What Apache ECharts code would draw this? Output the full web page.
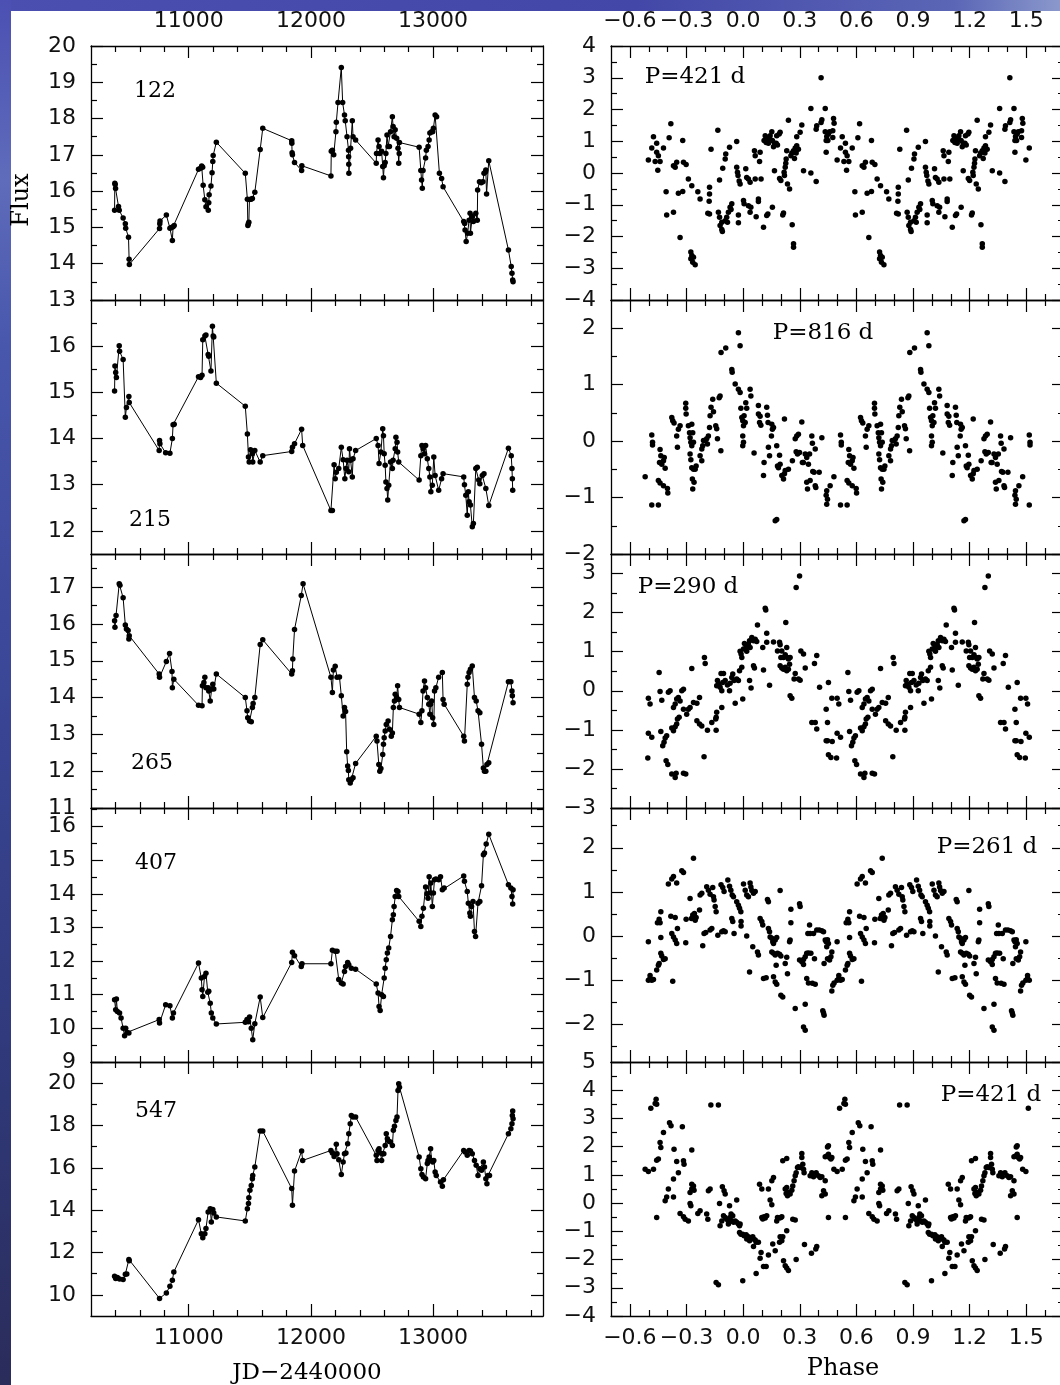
<!DOCTYPE html>
<html>
<head>
<meta charset="utf-8">
<script src="https://cdn.jsdelivr.net/npm/echarts@6/dist/echarts.min.js"></script>
<style>html,body{margin:0;padding:0;background:#fff}#c{width:1060px;height:1385px}</style>
</head>
<body>
<div id="c"></div>
<script>
// ---------------- DATA ----------------
// Light curves: [JD-2440000, flux]
const lc122 = [[10393,15.47],[10395,16.22],[10398,16.18],[10401,16.07],[10425,15.58],[10431,15.47],[10463,15.26],[10481,15.10],[10484,14.98],[10507,14.73],[10512,14.12],[10514,13.98],
[10761,14.97],[10763,15.10],[10765,15.18],[10817,15.34],[10846,14.98],[10858,15.00],[10866,14.64],[10872,15.02],[10881,15.05],
[11080,16.60],[11097,16.63],[11106,16.69],[11114,16.66],[11118,16.16],[11132,15.76],[11141,15.57],[11160,15.47],[11164,15.68],[11167,15.90],[11182,16.14],[11191,16.51],[11197,16.82],[11200,16.98],[11226,17.35],
[11463,16.49],[11480,15.78],[11484,15.05],[11488,15.10],[11492,15.14],[11497,15.77],[11510,15.78],[11521,15.80],[11541,15.97],[11585,17.15],[11606,17.73],
[11843,17.39],[11844,17.32],[11846,17.06],[11849,17.00],[11866,16.79],[11924,16.57],[11926,16.70],
[12164,16.42],[12167,17.10],[12176,17.13],[12187,17.00],[12205,17.64],[12208,17.90],[12222,18.44],[12249,19.41],[12260,18.44],[12275,18.10],[12281,17.94],[12296,17.50],[12308,17.13],[12309,16.95],[12310,16.74],[12311,16.49],[12325,17.18],[12339,17.94],[12345,17.50],[12366,17.41],
[12535,16.77],[12537,17.04],[12550,17.41],[12558,17.23],[12564,17.04],[12579,17.10],[12588,16.68],[12594,16.37],[12600,16.70],[12608,16.79],[12614,17.04],[12623,17.55],[12632,17.23],[12643,17.23],[12652,17.64],[12667,18.05],[12673,17.78],[12681,17.50],[12690,17.69],[12702,17.46],[12713,17.18],[12719,16.77],[12723,17.04],[12725,17.34],
[12886,17.21],[12900,16.57],[12906,16.31],[12912,16.08],[12918,16.57],[12939,16.91],[12945,17.13],[12959,17.23],[12968,17.41],[12974,17.60],[12988,17.64],[12997,17.64],[13003,17.73],[13017,18.10],[13029,18.05],[13052,16.49],[13070,16.35],[13082,16.12],
[13251,15.16],[13259,15.11],[13262,14.93],[13271,14.61],[13283,14.84],[13295,15.20],[13303,15.39],[13306,14.84],[13321,15.30],[13330,15.16],[13350,15.39],[13362,15.20],[13365,16.03],[13380,16.26],[13394,16.23],[13408,16.26],[13417,16.49],[13429,16.53],[13432,16.58],[13438,15.92],[13456,16.84],
[13617,14.38],[13640,13.92],[13646,13.74],[13652,13.55],[13655,13.50]];

const lc215 = [[10393,15.03],[10396,15.57],[10402,15.43],[10408,15.32],[10431,16.01],[10434,15.89],[10463,15.71],[10481,14.46],[10490,14.67],[10510,14.91],[10513,14.78],
[10758,13.74],[10761,13.96],[10764,13.89],[10811,13.69],[10846,13.68],[10866,14.00],[10872,14.30],[10881,14.31],
[11080,15.34],[11097,15.32],[11109,15.37],[11115,16.14],[11132,16.22],[11141,16.24],[11159,15.82],[11164,15.78],[11182,15.46],[11194,16.43],[11200,16.22],[11205,16.20],[11226,15.20],
[11463,14.70],[11480,14.10],[11489,13.60],[11495,13.49],[11506,13.76],[11521,13.67],[11524,13.49],[11541,13.74],[11585,13.49],[11606,13.63],
[11843,13.72],[11849,13.81],[11866,13.89],[11924,14.20],[11933,13.85],
[12164,12.44],[12176,12.44],[12190,13.43],[12199,13.13],[12208,13.27],[12228,13.35],[12249,13.81],[12264,13.54],[12278,13.13],[12287,13.35],[12296,13.53],[12310,13.28],[12316,13.78],[12325,13.53],[12339,13.17],[12345,13.56],[12366,13.74],
[12535,14.00],[12550,13.85],[12558,13.46],[12573,13.71],[12588,14.21],[12594,14.06],[12600,13.67],[12608,13.42],[12614,13.06],[12623,12.92],[12629,12.67],[12637,12.99],[12652,13.49],[12667,13.35],[12673,13.53],[12690,13.78],[12696,14.03],[12705,13.92],[12710,13.71],[12719,13.49],
[12886,13.10],[12900,13.63],[12909,13.85],[12918,13.78],[12930,13.67],[12939,13.85],[12953,13.56],[12965,13.35],[12974,13.17],[12982,12.85],[12994,12.99],[13006,13.60],[13017,13.20],[13046,12.88],[13070,13.13],[13082,13.24],
[13251,13.17],[13257,13.00],[13268,12.77],[13280,12.34],[13289,12.85],[13295,12.63],[13306,12.56],[13321,12.09],[13330,12.16],[13350,13.35],[13362,13.38],[13374,13.10],[13383,13.02],[13403,13.20],[13417,13.24],[13432,12.92],[13456,12.55],
[13617,13.79],[13640,13.63],[13646,13.35],[13649,13.13],[13652,12.88]];

const lc265 = [[10393,16.09],[10396,15.91],[10405,16.23],[10431,17.09],[10437,17.05],[10463,16.71],[10481,15.97],[10490,15.86],[10504,15.82],[10510,15.59],[10513,15.68],
[10758,14.64],[10761,14.55],[10817,14.98],[10843,15.20],[10863,14.71],[10866,14.27],[10878,14.50],
[11080,13.79],[11109,13.78],[11112,14.32],[11124,14.41],[11132,14.55],[11141,14.27],[11159,14.27],[11164,14.18],[11176,13.91],[11188,14.23],[11197,14.36],[11205,14.23],[11226,14.64],
[11463,14.00],[11477,13.64],[11483,13.45],[11498,13.36],[11512,13.34],[11521,13.73],[11527,13.84],[11541,14.00],[11585,15.44],[11606,15.57],
[11843,14.64],[11849,14.73],[11852,15.05],[11866,15.85],[11921,16.77],[11936,17.09],
[12164,14.55],[12176,14.14],[12184,14.75],[12199,14.85],[12214,14.55],[12234,14.56],[12249,14.05],[12264,13.50],[12275,13.73],[12284,13.62],[12293,12.53],[12301,12.14],[12307,12.02],[12310,11.77],[12322,11.68],[12331,11.77],[12345,11.82],[12366,12.21],
[12535,12.95],[12541,12.82],[12556,12.18],[12564,12.00],[12573,12.07],[12588,12.45],[12594,12.73],[12600,12.91],[12608,13.09],[12617,13.27],[12632,13.36],[12643,13.14],[12658,12.95],[12667,13.04],[12675,13.73],[12684,13.91],[12690,14.09],[12702,14.00],[12710,14.32],[12719,13.95],[12725,13.73],
[12886,13.55],[12900,13.32],[12909,13.64],[12918,14.18],[12930,14.45],[12939,14.27],[12953,14.00],[12965,13.82],[12974,13.55],[12980,13.82],[12988,13.91],[12997,13.45],[13006,13.27],[13012,14.18],[13023,14.27],[13046,14.55],[13076,14.68],[13082,13.95],[13091,13.82],
[13251,12.95],[13257,12.82],[13280,14.36],[13286,14.55],[13295,14.68],[13306,14.77],[13321,14.86],[13339,14.00],[13353,13.91],[13368,13.64],[13383,13.59],[13397,12.73],[13412,12.09],[13421,12.00],[13432,12.00],[13441,12.18],[13456,12.23],
[13617,14.43],[13637,14.43],[13646,14.18],[13649,14.05],[13655,13.86]];

const lc407 = [[10393,10.85],[10402,10.55],[10408,10.87],[10416,10.50],[10434,10.46],[10446,10.31],[10463,10.00],[10475,9.78],[10484,10.00],[10496,9.88],[10510,9.86],
[10758,10.26],[10761,10.16],[10811,10.70],[10846,10.67],[10866,10.31],[10875,10.46],
[11080,11.94],[11103,11.50],[11109,11.15],[11115,10.95],[11129,11.54],[11141,11.64],[11156,11.07],[11164,11.10],[11176,10.75],[11185,10.46],[11197,10.31],[11226,10.13],
[11463,10.18],[11477,10.26],[11489,10.20],[11498,10.34],[11512,10.00],[11524,9.66],[11541,10.14],[11585,10.93],[11606,10.32],
[11843,11.96],[11849,12.26],[11866,12.16],[11921,11.84],[11927,11.92],
[12164,11.92],[12176,12.32],[12199,12.29],[12214,12.29],[12228,11.45],[12249,11.35],[12264,11.32],[12275,11.69],[12284,11.84],[12301,11.96],[12310,11.89],[12331,11.79],[12366,11.76],
[12535,11.32],[12550,11.05],[12558,10.65],[12567,10.53],[12579,11.00],[12594,10.95],[12600,11.50],[12608,11.79],[12617,12.04],[12626,12.24],[12637,12.39],[12652,12.73],[12667,13.23],[12675,13.38],[12681,13.62],[12690,13.92],[12702,14.10],[12713,14.07],[12719,13.92],
[12886,13.18],[12900,13.03],[12909,13.33],[12921,13.57],[12939,14.20],[12950,14.00],[12959,13.87],[12968,14.51],[12977,14.02],[12982,14.32],[12994,13.62],[13003,14.02],[13012,14.42],[13023,14.44],[13046,14.42],[13061,14.51],[13076,14.12],[13091,14.17],
[13251,14.53],[13257,14.37],[13280,14.07],[13289,13.72],[13301,13.43],[13306,13.33],[13315,13.62],[13327,13.77],[13339,12.88],[13348,12.73],[13368,13.72],[13383,13.77],[13397,14.24],[13412,15.16],[13421,15.21],[13435,15.48],[13456,15.77],
[13617,14.27],[13637,14.17],[13646,13.92],[13652,13.70],[13655,14.12]];

const lc547 = [[10393,10.88],[10402,10.77],[10416,10.82],[10434,10.75],[10463,10.72],[10481,10.97],[10493,10.99],[10510,11.67],[10513,11.61],
[10761,9.83],[10817,10.09],[10846,10.41],[10866,10.69],[10878,11.08],
[11080,13.55],[11103,12.89],[11115,12.70],[11132,12.89],[11141,13.13],[11159,13.91],[11176,14.07],[11185,13.44],[11197,14.03],[11205,13.87],[11226,13.68],
[11463,13.49],[11480,14.07],[11489,14.31],[11492,14.59],[11501,14.94],[11512,15.17],[11521,15.49],[11524,15.64],[11541,16.04],[11585,17.74],[11606,17.74],
[11843,15.02],[11849,14.23],[11866,15.85],[11924,16.79],[11933,16.35],
[12164,16.82],[12176,16.70],[12190,16.54],[12208,17.11],[12214,16.67],[12228,16.38],[12249,15.69],[12264,16.27],[12275,16.67],[12287,16.70],[12301,17.14],[12310,17.61],[12322,18.08],[12331,18.47],[12345,18.40],[12366,18.40],
[12535,16.59],[12541,16.35],[12550,16.82],[12558,16.90],[12570,16.70],[12579,16.35],[12588,16.67],[12597,16.67],[12608,17.06],[12617,17.61],[12626,17.37],[12637,17.26],[12652,17.22],[12667,17.06],[12675,17.77],[12684,17.96],[12696,18.24],[12705,18.40],[12713,19.65],[12719,19.97],[12725,19.81],
[12886,16.51],[12900,15.96],[12909,15.69],[12921,15.57],[12939,15.49],[12953,16.20],[12959,16.35],[12968,16.51],[12980,16.90],[12988,16.35],[12997,16.27],[13006,16.35],[13017,15.80],[13026,15.64],[13061,15.33],[13076,15.13],[13085,15.44],
[13251,16.82],[13262,16.75],[13280,16.59],[13295,16.82],[13306,16.79],[13321,16.67],[13339,16.35],[13353,16.12],[13368,15.64],[13383,15.96],[13397,15.88],[13412,16.27],[13421,16.04],[13432,15.49],[13441,15.25],[13450,15.64],[13462,15.64],
[13617,17.61],[13637,17.85],[13646,18.08],[13649,18.47],[13652,18.68],[13655,18.32]];

// Phased curves, one cycle: [phase, flux - mean]
const ph122 = [[-0.502,0.41],[-0.484,0.79],[-0.475,1.14],[-0.466,0.36],[-0.458,0.94],[-0.458,0.65],[-0.449,0.54],[-0.44,0.36],[-0.452,0.09],[-0.422,0.79],[-0.408,-0.59],[-0.405,-1.32],[-0.383,1.55],[-0.392,1.11],[-0.369,-1.24],[-0.369,0.23],[-0.36,0.18],[-0.352,0.34],[-0.343,-0.64],[-0.334,-2.03],[-0.32,1.02],[-0.316,0.34],[-0.302,0.27],[-0.32,-0.58],[-0.29,-0.19],[-0.277,-2.49],[-0.272,-2.6],[-0.263,-2.65],[-0.277,-2.7],[-0.267,-2.81],[-0.254,-2.89],[-0.272,-0.4],[-0.24,-0.59],[-0.228,-0.82],[-0.178,-0.45],[-0.178,-0.66],[-0.18,-0.89],[-0.187,-1.27],[-0.178,-1.29],[-0.17,0.75],[-0.134,1.35],[-0.131,-1.24],[-0.125,-1.39],[-0.125,-0.22],[-0.113,-1.55],[-0.122,-1.65],[-0.113,-1.78],[-0.11,-1.84],[-0.108,0.15],[-0.095,0.44],[-0.092,0.6],[-0.095,-1.5],[-0.087,-1.39],[-0.083,-1.55],[-0.072,0.81],[-0.078,-1.24],[-0.069,-1.08],[-0.064,-1.15],[-0.06,-0.97],[-0.034,0.99],[-0.034,0.18],[-0.03,0.02],[-0.027,-0.08],[-0.021,-0.25],[-0.016,-0.35],[-0.025,-1.32],[-0.025,-1.57],[0.002,-0.87],[0.005,-0.97],[0.014,0.13],[0.019,-0.14],[0.028,-0.19],[0.037,-0.29],[0.028,-1.03],[0.037,-1.24],[0.041,-1.08],[0.06,0.7],[0.064,0.54],[0.069,-1.38],[0.087,0.36],[0.09,0.65],[0.081,-0.82],[0.081,-0.9],[0.095,-0.19],[0.064,-0.19],[0.108,-1.71],[0.111,1.02],[0.117,1.17],[0.122,0.96],[0.125,1.09],[0.134,0.94],[0.14,1.07],[0.143,1.17],[0.152,1.3],[0.155,1.02],[0.161,0.83],[0.166,0.94],[0.175,0.94],[0.182,0.88],[0.191,1.23],[0.196,1.28],[0.178,1.17],[0.125,-1.34],[0.131,-1.29],[0.155,-1.08],[0.166,0.07],[0.193,-0.17],[0.2,-0.24],[0.21,-1.32],[0.214,-1.26],[0.217,0.02],[0.223,0.18],[0.226,0.31],[0.219,-0.08],[0.231,0.7],[0.228,0.44],[0.24,1.66],[0.235,-0.35],[0.246,-0.5],[0.26,-1.63],[0.267,-2.23],[0.267,-2.34],[0.253,0.54],[0.258,0.63],[0.267,0.7],[0.276,0.79],[0.284,0.86],[0.293,0.75],[0.272,0.46],[0.281,0.63],[0.284,1.14],[0.302,1.28],[0.311,1.51],[0.32,0.07],[0.359,0.0],[0.359,2.03],[0.387,1.38],[0.39,1.49],[0.387,-0.27],[0.413,3.0],[0.413,1.59],[0.417,1.68],[0.435,2.03],[0.435,1.3],[0.44,1.02],[0.443,1.15],[0.452,1.23],[0.458,1.3],[0.475,1.33],[0.479,1.72],[0.482,1.57],[0.44,0.65],[0.449,1.02],[0.475,1.12]];

const ph215 = [[-0.519,-0.63],[-0.484,0.11],[-0.48,-0.02],[-0.48,-0.07],[-0.484,-1.13],[-0.449,-1.13],[-0.44,-0.15],[-0.436,-0.26],[-0.443,-0.38],[-0.431,-0.41],[-0.422,-0.35],[-0.413,-0.48],[-0.418,-0.29],[-0.449,-0.7],[-0.44,-0.74],[-0.422,-0.79],[-0.401,-0.84],[-0.399,-0.92],[-0.378,0.42],[-0.373,0.36],[-0.366,0.32],[-0.352,0.09],[-0.348,-0.11],[-0.343,0.21],[-0.334,0.27],[-0.304,0.67],[-0.304,0.58],[-0.302,0.48],[-0.29,0.27],[-0.284,0.15],[-0.281,0.06],[-0.277,-0.02],[-0.272,0.3],[-0.267,0.15],[-0.263,-0.02],[-0.272,-0.08],[-0.281,-0.23],[-0.277,-0.33],[-0.272,-0.47],[-0.263,-0.5],[-0.254,-0.5],[-0.249,-0.44],[-0.269,-0.67],[-0.26,-0.73],[-0.267,-0.85],[-0.228,-0.26],[-0.219,-0.14],[-0.214,-0.08],[-0.21,0.01],[-0.201,0.01],[-0.193,0.04],[-0.189,-0.05],[-0.184,0.09],[-0.219,-0.35],[-0.178,0.24],[-0.175,0.45],[-0.17,0.6],[-0.161,0.74],[-0.157,0.52],[-0.145,0.27],[-0.14,0.22],[-0.136,0.04],[-0.127,0.77],[-0.122,0.8],[-0.118,-0.17],[-0.117,1.57],[-0.092,1.65],[-0.06,1.27],[-0.058,1.22],[-0.042,1.01],[-0.025,0.92],[-0.016,0.86],[-0.025,1.92],[-0.016,1.69],[-0.012,0.58],[-0.007,0.42],[-0.002,0.36],[0.002,0.27],[0.005,0.45],[0.011,0.33],[-0.002,0.09],[0.002,-0.02],[-0.002,-0.08],[0.014,0.68],[0.019,0.58],[0.037,0.92],[0.041,0.8],[0.058,-0.21],[0.081,0.63],[0.081,0.48],[0.087,0.33],[0.09,0.44],[0.094,0.28],[0.108,-0.61],[0.111,-0.38],[0.125,0.6],[0.129,0.46],[0.132,0.33],[0.134,-0.11],[0.14,-0.26],[0.152,0.3],[0.155,0.21],[0.161,0.24],[0.15,0.09],[0.178,-0.08],[0.182,-0.44],[0.187,-0.47],[0.196,-0.41],[0.193,-0.25],[0.205,-0.61],[0.214,-0.67],[0.219,-0.58],[0.219,0.39],[0.223,-0.52],[0.178,-1.39],[0.17,-1.41],[0.24,-0.5],[0.261,-0.35],[0.276,0.04],[0.284,0.09],[0.293,0.12],[0.299,-0.2],[0.281,-0.19],[0.288,-0.23],[0.311,0.34],[0.314,-0.38],[0.319,-0.38],[0.329,-0.23],[0.337,-0.29],[0.346,-0.41],[0.352,-0.23],[0.337,-0.73],[0.341,-0.85],[0.355,-0.7],[0.364,0.09],[0.367,-0.04],[0.369,-0.54],[0.376,-0.55],[0.382,-0.14],[0.382,-0.79],[0.385,-0.82],[0.403,-0.55],[0.417,0.06],[0.44,-0.96],[0.443,-0.88],[0.443,-1.12],[0.447,-1.03],[0.461,-0.79]];

const ph265 = [[-0.502,-0.19],[-0.493,-0.34],[-0.502,-1.09],[-0.484,-1.19],[-0.505,-1.72],[-0.445,0.47],[-0.44,-0.02],[-0.431,-0.24],[-0.436,-1.04],[-0.426,-1.41],[-0.419,-1.32],[-0.413,-1.21],[-0.405,-1.15],[-0.408,-1.79],[-0.399,-1.89],[-0.396,-0.04],[-0.387,0.0],[-0.378,-2.13],[-0.36,-2.22],[-0.355,-2.11],[-0.378,-0.95],[-0.369,-1.02],[-0.36,-0.92],[-0.352,-0.85],[-0.348,-0.72],[-0.339,-0.68],[-0.369,-0.43],[-0.36,-0.34],[-0.352,-0.21],[-0.343,-0.17],[-0.334,-0.26],[-0.325,0.0],[-0.316,0.04],[-0.316,-2.11],[-0.304,-2.13],[-0.316,-0.47],[-0.299,-0.6],[-0.29,-0.47],[-0.281,-0.43],[-0.272,0.57],[-0.263,-0.3],[-0.245,-0.32],[-0.231,-0.17],[-0.245,-0.77],[-0.231,-0.85],[-0.219,-0.9],[-0.207,-1.69],[-0.205,0.85],[-0.201,0.7],[-0.189,-1.01],[-0.166,-0.81],[-0.145,-0.72],[-0.143,-0.68],[-0.14,-0.55],[-0.143,-1.01],[-0.14,0.13],[-0.136,0.26],[-0.131,0.17],[-0.122,0.09],[-0.113,0.0],[-0.117,0.44],[-0.104,0.44],[-0.113,-0.43],[-0.108,0.21],[-0.095,0.26],[-0.083,0.15],[-0.072,0.0],[-0.069,0.19],[-0.06,0.34],[-0.055,0.43],[-0.048,0.26],[-0.042,-0.32],[-0.034,0.3],[-0.025,0.26],[-0.019,0.51],[-0.007,0.6],[-0.002,-0.21],[-0.016,1.01],[-0.011,0.94],[-0.007,0.85],[0.002,1.07],[0.007,1.21],[0.016,1.11],[0.019,1.01],[0.028,1.19],[0.034,1.28],[0.037,1.11],[0.046,1.36],[0.055,1.28],[0.064,1.32],[0.072,1.26],[0.034,0.26],[0.042,0.07],[0.055,0.64],[0.06,0.58],[0.076,1.68],[0.104,1.11],[0.108,0.53],[0.117,2.11],[0.12,2.07],[0.125,1.47],[0.125,1.24],[0.14,0.14],[0.161,1.25],[0.182,1.02],[0.193,1.24],[0.196,1.18],[0.205,1.02],[0.2,0.85],[0.196,0.64],[0.205,0.58],[0.214,0.85],[0.223,0.92],[0.231,1.11],[0.235,0.85],[0.24,0.81],[0.249,0.85],[0.214,0.55],[0.223,0.6],[0.231,0.51],[0.246,0.68],[0.24,0.55],[0.226,1.75],[0.249,-0.13],[0.258,-0.19],[0.27,0.3],[0.276,0.44],[0.281,2.64],[0.293,0.3],[0.299,2.94],[0.306,1.02],[0.302,0.27],[0.32,0.94],[0.329,0.58],[0.364,-0.81],[0.382,-0.81],[0.39,-0.98],[0.378,0.7],[0.39,0.9],[0.405,0.09],[0.44,-0.47],[0.447,-0.81],[0.44,-1.28],[0.447,-1.28],[0.452,0.21],[0.452,-1.64],[0.465,-1.71],[0.47,-0.19],[0.472,-1.3]];

const ph407 = [[-0.502,-0.13],[-0.502,-1.0],[-0.493,-0.96],[-0.484,-1.0],[-0.475,-0.98],[-0.493,-0.89],[-0.458,-0.77],[-0.449,-0.66],[-0.445,-0.62],[-0.454,0.3],[-0.445,0.38],[-0.436,0.55],[-0.44,0.3],[-0.436,-0.03],[-0.436,-0.39],[-0.431,-0.45],[-0.422,-0.53],[-0.413,-0.51],[-0.396,1.18],[-0.378,1.29],[-0.369,1.35],[-0.352,1.2],[-0.325,1.48],[-0.316,1.44],[-0.383,0.45],[-0.36,0.42],[-0.373,-1.02],[-0.378,0.06],[-0.369,-0.02],[-0.36,-0.09],[-0.352,-0.17],[-0.348,0.17],[-0.304,-0.15],[-0.302,0.38],[-0.281,0.85],[-0.274,0.4],[-0.267,0.48],[-0.258,0.51],[-0.254,0.36],[-0.249,0.42],[-0.263,1.76],[-0.231,0.59],[-0.228,0.93],[-0.219,0.97],[-0.214,-0.22],[-0.207,0.06],[-0.198,0.08],[-0.193,1.12],[-0.184,1.04],[-0.175,0.95],[-0.161,1.1],[-0.157,0.89],[-0.154,0.82],[-0.148,0.67],[-0.143,0.55],[-0.175,0.14],[-0.166,0.17],[-0.134,0.02],[-0.113,0.1],[-0.104,0.12],[-0.095,0.1],[-0.117,1.16],[-0.108,1.1],[-0.101,1.01],[-0.081,1.27],[-0.072,1.13],[-0.065,1.04],[-0.058,0.93],[-0.051,0.89],[-0.06,0.4],[-0.055,0.33],[-0.048,0.06],[-0.034,0.78],[-0.025,0.7],[-0.019,0.63],[-0.012,0.55],[-0.011,0.33],[-0.011,0.23],[0.002,1.18],[0.011,1.04],[0.019,0.93],[0.037,1.2],[0.041,1.11],[0.046,1.03],[0.055,0.97],[0.064,1.01],[0.019,0.0],[0.028,0.89],[0.034,-0.81],[0.051,-0.24],[0.076,-0.36],[0.081,-0.43],[0.09,0.4],[0.099,0.33],[0.104,0.25],[0.108,-0.96],[0.122,-0.94],[0.129,0.83],[0.134,0.78],[0.134,0.17],[0.14,0.1],[0.143,-0.02],[0.152,-0.05],[0.157,-0.13],[0.161,-0.17],[0.17,-0.09],[0.178,-0.03],[0.152,-0.36],[0.161,-0.39],[0.17,-0.43],[0.182,-0.39],[0.193,-0.41],[0.2,-0.45],[0.161,-0.92],[0.17,-1.04],[0.178,-1.09],[0.175,-0.66],[0.196,1.03],[0.2,-1.34],[0.21,-1.38],[0.223,-0.62],[0.231,-0.48],[0.235,-0.85],[0.246,-0.13],[0.249,-0.09],[0.253,0.3],[0.253,0.61],[0.299,0.73],[0.302,0.67],[0.276,-1.64],[0.299,-0.54],[0.311,-0.58],[0.32,-0.53],[0.32,-0.64],[0.329,-1.54],[0.32,-2.06],[0.329,-2.13],[0.329,-0.47],[0.337,-0.39],[0.346,-0.38],[0.359,-0.39],[0.378,-0.51],[0.337,-0.96],[0.346,-1.06],[0.367,-1.07],[0.382,-1.09],[0.352,0.25],[0.343,0.06],[0.355,0.06],[0.373,0.06],[0.39,0.14],[0.403,0.14],[0.417,0.12],[0.426,0.1],[0.422,-1.69],[0.429,-1.79],[0.426,-1.74],[0.429,-0.62],[0.435,-0.09],[0.44,-0.13],[0.447,-0.08],[0.452,-0.17],[0.443,-0.24],[0.447,-0.51],[0.458,-0.54],[0.465,-0.47],[0.47,-0.36],[0.47,-1.24],[0.475,-1.11],[0.482,-1.06]];

const ph547 = [[-0.519,1.2],[-0.502,1.12],[-0.475,1.2],[-0.489,3.36],[-0.466,3.53],[-0.461,3.68],[-0.458,3.5],[-0.458,-0.51],[-0.458,1.52],[-0.449,1.56],[-0.44,2.15],[-0.436,1.97],[-0.422,2.5],[-0.413,0.08],[-0.405,0.22],[-0.396,0.5],[-0.39,2.85],[-0.382,2.74],[-0.369,0.85],[-0.369,0.22],[-0.366,1.91],[-0.352,1.47],[-0.343,1.08],[-0.334,-0.37],[-0.316,-0.48],[-0.307,-0.57],[-0.29,-0.63],[-0.322,2.71],[-0.316,1.5],[-0.313,1.38],[-0.281,-0.01],[-0.277,-0.09],[-0.281,0.38],[-0.272,0.5],[-0.263,0.61],[-0.26,0.46],[-0.272,0.67],[-0.272,1.88],[-0.24,-0.37],[-0.228,-0.27],[-0.193,-0.39],[-0.187,-0.57],[-0.184,0.44],[-0.175,0.5],[-0.171,3.48],[-0.131,3.48],[-0.143,-2.81],[-0.131,-2.89],[-0.125,-0.01],[-0.122,-0.8],[-0.113,-0.63],[-0.11,0.58],[-0.101,0.44],[-0.095,0.32],[-0.104,-0.45],[-0.095,-0.51],[-0.087,-0.57],[-0.078,-0.63],[-0.069,-0.51],[-0.064,-0.39],[-0.055,-0.45],[-0.06,-0.63],[-0.078,-0.74],[-0.051,-0.68],[-0.042,-0.63],[-0.034,-0.68],[-0.025,-0.74],[-0.019,-0.8],[-0.016,-0.74],[-0.072,-0.09],[-0.034,0.11],[-0.019,-1.04],[-0.012,-1.1],[-0.002,-1.1],[0.005,-1.16],[0.016,-1.12],[0.019,-1.27],[0.028,-1.19],[0.034,-1.33],[0.041,-1.24],[0.051,-1.19],[0.055,-1.27],[0.064,-1.31],[0.069,-1.39],[0.081,-1.39],[-0.002,-2.75],[0.055,-1.54],[0.069,-2.49],[0.087,0.67],[0.099,0.5],[0.09,-1.95],[0.095,-1.75],[0.108,-2.25],[0.122,-2.25],[0.099,-0.51],[0.104,-0.56],[0.111,-0.48],[0.117,-0.53],[0.125,-0.45],[0.134,-1.84],[0.134,0.5],[0.143,0.11],[0.152,-0.06],[0.152,0.79],[0.161,0.91],[0.157,-1.45],[0.17,-1.69],[0.178,-0.63],[0.182,-0.51],[0.193,-0.53],[0.2,-0.51],[0.205,-0.48],[0.193,-1.39],[0.196,-1.19],[0.21,-1.19],[0.205,-1.33],[0.21,1.5],[0.231,1.58],[0.214,-2.04],[0.223,-2.22],[0.231,-2.3],[0.24,-2.39],[0.223,0.5],[0.228,0.34],[0.235,0.26],[0.24,0.38],[0.231,0.55],[0.231,-0.98],[0.249,0.32],[0.258,0.46],[0.263,0.61],[0.27,0.79],[0.276,0.97],[0.281,1.08],[0.288,1.26],[0.293,1.29],[0.302,1.26],[0.311,1.76],[0.311,1.62],[0.316,1.38],[0.32,1.2],[0.323,1.08],[0.263,-0.57],[0.276,-0.6],[0.281,-2.0],[0.325,-1.47],[0.355,0.97],[0.364,1.08],[0.373,0.93],[0.387,1.08],[0.399,0.97],[0.408,0.91],[0.417,0.93],[0.362,-1.78],[0.385,-1.63],[0.39,-1.54],[0.417,0.26],[0.435,0.32],[0.426,0.44],[0.435,0.79],[0.435,1.64],[0.443,1.67],[0.452,1.73],[0.458,1.62],[0.465,1.56],[0.47,1.62],[0.447,1.99],[0.452,2.03],[0.452,-0.51]];

const starNames = ['122','215','265','407','547'];
const periodLabels = ['P=421 d','P=816 d','P=290 d','P=261 d','P=421 d'];

// Axis ranges and ticks
const jdRange = [10200, 13900];
const jdMajor = [11000, 12000, 13000];
const jdMinor = [10400,10600,10800,11200,11400,11600,11800,12200,12400,12600,12800,13200,13400,13600,13800];
const phRange = [-0.7, 1.7];
const phMajor = [-0.6,-0.3,0.0,0.3,0.6,0.9,1.2,1.5];
const phMinor = [-0.5,-0.4,-0.2,-0.1,0.1,0.2,0.4,0.5,0.7,0.8,1.0,1.1,1.3,1.4,1.6];

const fluxRanges = [[13,20],[11.5,17],[11,17.9],[9,16.55],[9,21]];
const fluxMajor = [[13,14,15,16,17,18,19,20],[12,13,14,15,16],[11,12,13,14,15,16,17],[9,10,11,12,13,14,15,16],[10,12,14,16,18,20]];
const fluxMinor = [[13.5,14.5,15.5,16.5,17.5,18.5,19.5],[12.5,13.5,14.5,15.5,16.5],[11.5,12.5,13.5,14.5,15.5,16.5,17.5],[9.5,10.5,11.5,12.5,13.5,14.5,15.5,16.5],[11,13,15,17,19]];

const dRanges = [[-4,4],[-2,2.5],[-3,3.5],[-2.85,2.9],[-4,5]];
const dMajor = [[-4,-3,-2,-1,0,1,2,3,4],[-2,-1,0,1,2],[-3,-2,-1,0,1,2,3],[-2,-1,0,1,2],[-4,-3,-2,-1,0,1,2,3,4,5]];
const dMinor = [[-3.5,-2.5,-1.5,-0.5,0.5,1.5,2.5,3.5],[-1.5,-0.5,0.5,1.5],[-2.5,-1.5,-0.5,0.5,1.5,2.5],[-2.5,-1.5,-0.5,0.5,1.5,2.5],[-3.5,-2.5,-1.5,-0.5,0.5,1.5,2.5,3.5,4.5]];

const lightCurves = [lc122, lc215, lc265, lc407, lc547];
const phaseCurves = [ph122, ph215, ph265, ph407, ph547];

// ---------------- LAYOUT ----------------
const TOP0 = 46, PH = 254;
const COLS = [{left:91, width:452}, {left:611, width:453}];
const TXT = {fontFamily:'DejaVu Sans', fontSize:22, color:'#111'};
const neg = s => s.replace('-', '\u2212');
const fmtInt = v => neg(String(Math.round(v)));
const fmtPh = v => neg((Math.abs(v) < 1e-9 ? 0 : v).toFixed(1));

// phase folding as in the figure: each cycle shown twice, plus the edge wrap
function fold(pts) {
  const out = [];
  pts.forEach(([p, v]) => {
    out.push([p, v]); out.push([p + 1, v]);
    if (p + 2 <= 1.52) out.push([p + 2, v]);
  });
  return out;
}

const grids = [], xAxis = [], yAxis = [], series = [];
const lineS = {color:'#000', width:1.3};
const tickS = {color:'#000', width:1.2};

function addAxes(g, xr, xMaj, xMin, xFmt, showTop, showBottom, yr, yMaj, yMin, yFmt) {
  const bx = {type:'value', gridIndex:g, min:xr[0], max:xr[1], splitLine:{show:false}, axisPointer:{show:false}};
  xAxis.push(
    Object.assign({}, bx, {position:'bottom', axisLine:{show:true, onZero:false, lineStyle:lineS},
      axisTick:{show:true, inside:true, length:12, customValues:xMaj, lineStyle:tickS},
      axisLabel:Object.assign({show:showBottom, customValues:xMaj, formatter:xFmt, margin:11}, TXT)}),
    Object.assign({}, bx, {position:'bottom', axisLine:{show:false, onZero:false},
      axisTick:{show:true, inside:true, length:6, customValues:xMin, lineStyle:tickS},
      axisLabel:{show:false, customValues:xMin}}),
    Object.assign({}, bx, {position:'top', axisLine:{show:true, onZero:false, lineStyle:lineS},
      axisTick:{show:true, inside:true, length:12, customValues:xMaj, lineStyle:tickS},
      axisLabel:Object.assign({show:showTop, customValues:xMaj, formatter:xFmt, margin:14}, TXT)}),
    Object.assign({}, bx, {position:'top', axisLine:{show:false, onZero:false},
      axisTick:{show:true, inside:true, length:6, customValues:xMin, lineStyle:tickS},
      axisLabel:{show:false, customValues:xMin}})
  );
  const by = {type:'value', gridIndex:g, min:yr[0], max:yr[1], splitLine:{show:false}, axisPointer:{show:false}};
  yAxis.push(
    Object.assign({}, by, {position:'left', axisLine:{show:true, onZero:false, lineStyle:lineS},
      axisTick:{show:true, inside:true, length:12, customValues:yMaj, lineStyle:tickS},
      axisLabel:Object.assign({show:true, customValues:yMaj, formatter:yFmt, margin:15}, TXT)}),
    Object.assign({}, by, {position:'left', axisLine:{show:false, onZero:false},
      axisTick:{show:true, inside:true, length:6, customValues:yMin, lineStyle:tickS},
      axisLabel:{show:false, customValues:yMin}}),
    Object.assign({}, by, {position:'right', axisLine:{show:true, onZero:false, lineStyle:lineS},
      axisTick:{show:true, inside:true, length:12, customValues:yMaj, lineStyle:tickS},
      axisLabel:{show:false, customValues:yMaj}}),
    Object.assign({}, by, {position:'right', axisLine:{show:false, onZero:false},
      axisTick:{show:true, inside:true, length:6, customValues:yMin, lineStyle:tickS},
      axisLabel:{show:false, customValues:yMin}})
  );
}

for (let c = 0; c < 2; c++) {
  for (let i = 0; i < 5; i++) {
    const g = c * 5 + i;
    grids.push({left:COLS[c].left, width:COLS[c].width, top:TOP0 + i * PH, height:PH, outerBoundsMode:'none', containLabel:false});
    if (c === 0) {
      addAxes(g, jdRange, jdMajor, jdMinor, v => String(Math.round(v)), i === 0, i === 4,
              fluxRanges[i], fluxMajor[i], fluxMinor[i], fmtInt);
      series.push({type:'line', xAxisIndex:g * 4, yAxisIndex:g * 4, data:lightCurves[i],
        symbol:'circle', symbolSize:5.5, showSymbol:true, showAllSymbol:true,
        lineStyle:{color:'#000', width:1}, itemStyle:{color:'#000', opacity:1}, animation:false, silent:true});
    } else {
      addAxes(g, phRange, phMajor, phMinor, fmtPh, i === 0, i === 4,
              dRanges[i], dMajor[i], dMinor[i], fmtInt);
      series.push({type:'scatter', xAxisIndex:g * 4, yAxisIndex:g * 4, data:fold(phaseCurves[i]),
        symbol:'circle', symbolSize:5.5, itemStyle:{color:'#000', opacity:1}, animation:false, silent:true});
    }
  }
}

// annotation positions (centres)
const starPos = [[155,91],[150,520],[152,763],[156,863],[156,1111]];
const perPos = [[695,77],[823,333],[688,587],[987,847],[991,1095]];
const graphic = [
  {type:'rect', shape:{x:0, y:0, width:1060, height:11}, silent:true,
   style:{fill:new echarts.graphic.LinearGradient(0,0,1,0,[{offset:0,color:'#4b50b0'},{offset:0.6,color:'#4348a8'},{offset:0.9,color:'#5b66b6'},{offset:1,color:'#8a98cc'}])}},
  {type:'rect', shape:{x:0, y:0, width:11, height:1385}, silent:true,
   style:{fill:new echarts.graphic.LinearGradient(0,0,0,1,[{offset:0,color:'#4b50b2'},{offset:0.13,color:'#5f6cbb'},{offset:0.25,color:'#4856ac'},{offset:0.5,color:'#3a4696'},{offset:0.75,color:'#303a7c'},{offset:1,color:'#2a2c5a'}])}},
  {type:'text', x:22, y:200, rotation:Math.PI/2, silent:true,
   style:{text:'Flux', font:'24px "DejaVu Serif"', fill:'#000', align:'center', verticalAlign:'middle'}},
  {type:'text', x:307, y:1373, silent:true,
   style:{text:'JD\u22122440000', font:'23px "DejaVu Serif"', fill:'#000', align:'center', verticalAlign:'middle'}},
  {type:'text', x:843, y:1369, silent:true,
   style:{text:'Phase', font:'24px "DejaVu Serif"', fill:'#000', align:'center', verticalAlign:'middle'}}
];
starNames.forEach((s, i) => graphic.push({type:'text', x:starPos[i][0], y:starPos[i][1], silent:true,
  style:{text:s, font:'22px "DejaVu Serif"', fill:'#000', align:'center', verticalAlign:'middle'}}));
periodLabels.forEach((s, i) => graphic.push({type:'text', x:perPos[i][0], y:perPos[i][1], silent:true,
  style:{text:s, font:'23px "DejaVu Serif"', fill:'#000', align:'center', verticalAlign:'middle'}}));

const chart = echarts.init(document.getElementById('c'), null, {renderer:'canvas'});
chart.setOption({
  backgroundColor:'#ffffff',
  animation:false,
  grid:grids, xAxis:xAxis, yAxis:yAxis, series:series, graphic:graphic
});
</script>
</body>
</html>
